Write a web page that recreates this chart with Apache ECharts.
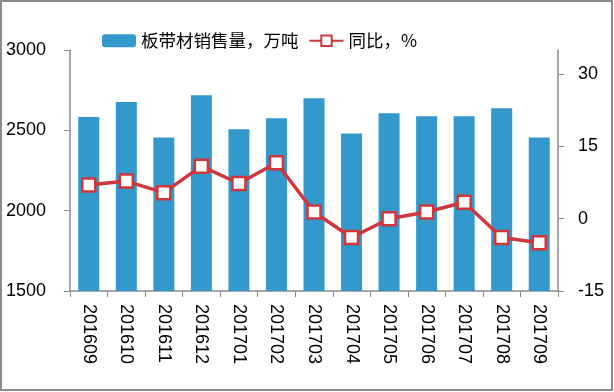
<!DOCTYPE html>
<html>
<head>
<meta charset="utf-8">
<script src="https://cdn.jsdelivr.net/npm/echarts@6/dist/echarts.min.js"></script>
<style>html,body{margin:0;padding:0;background:#fff}#c{width:614px;height:392px}</style>
</head>
<body>
<div id="c"></div>
<script>
var categories = ['201609','201610','201611','201612','201701','201702','201703','201704','201705','201706','201707','201708','201709'];
var salesValues = [2583, 2677, 2456, 2719, 2506, 2575, 2700, 2481, 2606, 2587, 2587, 2637, 2456];
var yoyValues = [7.0, 7.8, 5.4, 10.9, 7.3, 11.6, 1.4, -3.9, 0.0, 1.4, 3.4, -3.9, -5.0];
var rightTicks = [-15, 0, 15, 30];
var seriesNames = ['板带材销售量，万吨', '同比，%'];

var chart = echarts.init(document.getElementById('c'));
var numFont = 'Liberation Sans';
var axisGray = '#8c8c8c';
chart.setOption({
  animation: false,
  graphic: [{
    type: 'rect', shape: {x: 1, y: 1, width: 611, height: 389},
    style: {fill: 'none', stroke: axisGray, lineWidth: 2}, silent: true
  }],
  legend: {
    left: 97, top: 27, itemWidth: 34, itemHeight: 13, itemGap: 10,
    textStyle: {fontFamily: 'Noto Sans CJK SC', fontSize: 17.5, color: '#000'},
    data: [{name: seriesNames[0]}, {name: seriesNames[1]}]
  },
  grid: {left: 70, right: 56, top: 50, bottom: 101},
  xAxis: {
    type: 'category', data: categories,
    axisLine: {onZero: false, lineStyle: {color: axisGray, width: 1.5}},
    axisTick: {show: true, length: 6, lineStyle: {color: axisGray}},
    axisLabel: {rotate: -90, margin: 13, fontFamily: numFont, fontSize: 18, color: '#000'}
  },
  yAxis: [{
    type: 'value', min: 1500, max: 3000, interval: 500,
    axisLine: {show: true, onZero: false, lineStyle: {color: axisGray, width: 1.5}},
    axisTick: {show: true, length: 6, lineStyle: {color: axisGray}},
    axisLabel: {margin: 24, fontFamily: numFont, fontSize: 18, color: '#000',
      formatter: function (v) { return String(v); }},
    splitLine: {show: false}
  }, {
    type: 'value', min: -15, max: 35, interval: 15,
    axisLine: {show: true, onZero: false, lineStyle: {color: axisGray, width: 1.5}},
    axisTick: {show: true, length: 6, lineStyle: {color: axisGray}, customValues: rightTicks},
    axisLabel: {margin: 20, fontFamily: numFont, fontSize: 18, color: '#000', customValues: rightTicks},
    splitLine: {show: false}
  }],
  series: [{
    name: seriesNames[0], type: 'bar', data: salesValues, yAxisIndex: 0,
    barWidth: 21, itemStyle: {color: '#3399CC'}
  }, {
    name: seriesNames[1], type: 'line', data: yoyValues, yAxisIndex: 1,
    symbol: 'rect', symbolSize: 13,
    lineStyle: {color: '#D0363A', width: 3.5},
    itemStyle: {color: '#fff', borderColor: '#D0363A', borderWidth: 2.5}
  }]
});
</script>
</body>
</html>
